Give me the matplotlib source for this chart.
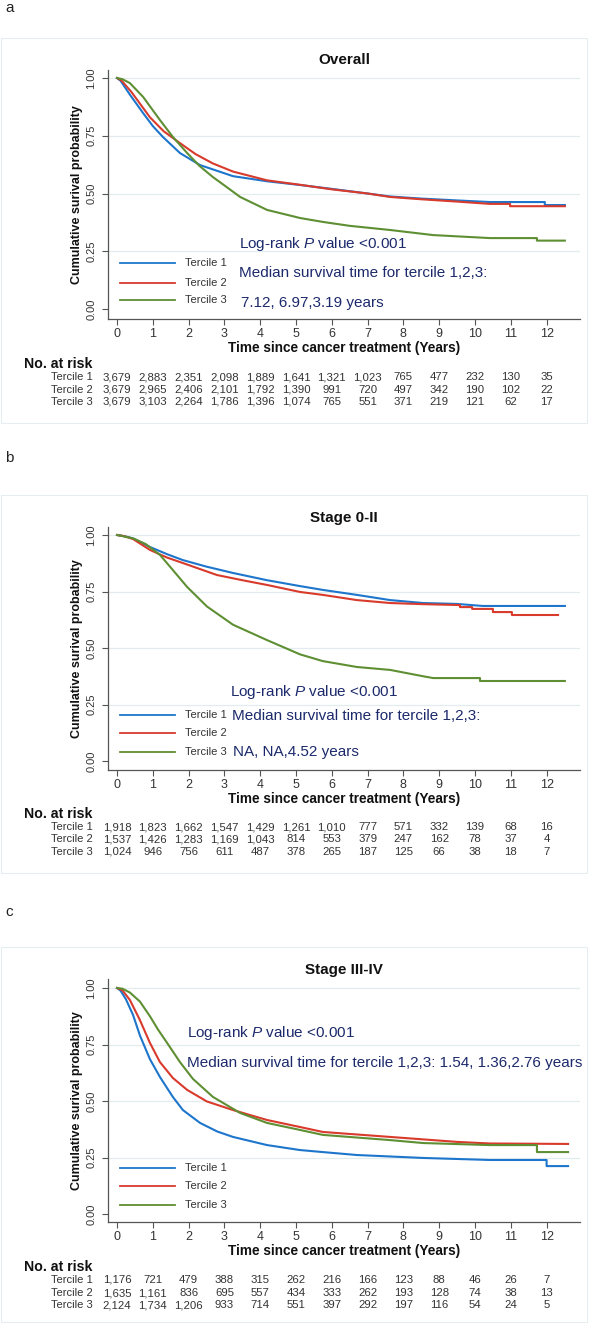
import matplotlib
matplotlib.use("Agg")
import matplotlib.pyplot as plt
from matplotlib.patches import Rectangle
from matplotlib.transforms import blended_transform_factory

# ---------------- data ----------------
years = [0, 1, 2, 3, 4, 5, 6, 7, 8, 9, 10, 11, 12]
tercile_names = ["Tercile 1", "Tercile 2", "Tercile 3"]

# Panel a: Overall
a_t1_t = [0, 0.1, 0.36, 0.73, 1.0, 1.28, 1.76, 2.32, 3.24, 4.19, 5.1, 6.0, 7.0, 7.63, 8.5, 9.5, 10.42, 11.95, 11.95, 12.51]
a_t1_s = [1.0, 0.988, 0.928, 0.848, 0.792, 0.745, 0.675, 0.623, 0.575, 0.553, 0.537, 0.52, 0.50, 0.487, 0.478, 0.47, 0.463, 0.463, 0.45, 0.45]
a_t2_t = [0, 0.12, 0.4, 0.92, 1.3, 1.76, 2.2, 2.68, 3.24, 4.19, 5.1, 6.0, 7.0, 7.63, 8.5, 9.5, 10.42, 10.98, 10.98, 12.51]
a_t2_s = [1.0, 0.99, 0.94, 0.83, 0.77, 0.718, 0.67, 0.63, 0.595, 0.557, 0.538, 0.518, 0.50, 0.485, 0.475, 0.465, 0.455, 0.455, 0.445, 0.445]
a_t3_t = [0, 0.15, 0.36, 0.73, 1.2, 1.56, 1.96, 2.3, 2.68, 3.0, 3.44, 4.19, 5.11, 5.75, 6.5, 7.63, 8.83, 10.42, 11.73, 11.73, 12.51]
a_t3_s = [1.0, 0.995, 0.978, 0.918, 0.818, 0.745, 0.675, 0.62, 0.571, 0.535, 0.485, 0.429, 0.394, 0.377, 0.36, 0.342, 0.32, 0.307, 0.307, 0.296, 0.296]
a_risk_1 = ["3,679", "2,883", "2,351", "2,098", "1,889", "1,641", "1,321", "1,023", "765", "477", "232", "130", "35"]
a_risk_2 = ["3,679", "2,965", "2,406", "2,101", "1,792", "1,390", "991", "720", "497", "342", "190", "102", "22"]
a_risk_3 = ["3,679", "3,103", "2,264", "1,786", "1,396", "1,074", "765", "551", "371", "219", "121", "62", "17"]

# Panel b: Stage 0-II
b_t1_t = [0, 0.2, 0.45, 0.92, 1.4, 1.84, 2.5, 3.24, 4.19, 5.11, 5.75, 6.7, 7.63, 8.55, 9.5, 10.22, 12.51]
b_t1_s = [1.0, 0.995, 0.985, 0.947, 0.915, 0.889, 0.86, 0.832, 0.80, 0.774, 0.757, 0.735, 0.712, 0.699, 0.695, 0.686, 0.686]
b_t2_t = [0, 0.2, 0.45, 0.92, 1.4, 1.84, 2.79, 3.5, 4.19, 5.11, 5.75, 6.7, 7.63, 8.55, 9.58, 9.58, 9.92, 9.92, 10.5, 10.5, 11.03, 11.03, 12.32]
b_t2_s = [1.0, 0.995, 0.982, 0.934, 0.90, 0.876, 0.823, 0.80, 0.779, 0.748, 0.735, 0.712, 0.699, 0.694, 0.69, 0.681, 0.681, 0.673, 0.673, 0.659, 0.659, 0.646, 0.646]
b_t3_t = [0, 0.45, 0.8, 1.2, 1.56, 1.96, 2.51, 3.24, 4.19, 5.11, 5.75, 6.7, 7.63, 8.55, 8.83, 10.14, 10.14, 12.51]
b_t3_s = [1.0, 0.985, 0.96, 0.912, 0.845, 0.77, 0.684, 0.603, 0.535, 0.472, 0.442, 0.416, 0.403, 0.375, 0.367, 0.367, 0.354, 0.354]
b_risk_1 = ["1,918", "1,823", "1,662", "1,547", "1,429", "1,261", "1,010", "777", "571", "332", "139", "68", "16"]
b_risk_2 = ["1,537", "1,426", "1,283", "1,169", "1,043", "814", "553", "379", "247", "162", "78", "37", "4"]
b_risk_3 = ["1,024", "946", "756", "611", "487", "378", "265", "187", "125", "66", "38", "18", "7"]

# Panel c: Stage III-IV
c_t1_t = [0, 0.1, 0.25, 0.45, 0.64, 0.92, 1.2, 1.56, 1.84, 2.32, 2.8, 3.24, 4.19, 5.11, 5.75, 6.7, 8.55, 10.42, 12.0, 12.0, 12.6]
c_t1_s = [1.0, 0.988, 0.95, 0.88, 0.79, 0.685, 0.606, 0.518, 0.46, 0.403, 0.365, 0.341, 0.305, 0.283, 0.274, 0.261, 0.248, 0.239, 0.239, 0.212, 0.212]
c_t2_t = [0, 0.15, 0.36, 0.64, 0.92, 1.2, 1.56, 1.96, 2.51, 3.24, 4.19, 5.11, 5.75, 7.63, 9.5, 10.42, 12.6]
c_t2_s = [1.0, 0.99, 0.947, 0.858, 0.757, 0.672, 0.602, 0.549, 0.498, 0.46, 0.416, 0.385, 0.363, 0.341, 0.319, 0.312, 0.31]
c_t3_t = [0, 0.15, 0.36, 0.64, 0.92, 1.15, 1.4, 1.76, 2.12, 2.68, 3.44, 4.19, 5.11, 5.75, 7.63, 8.55, 10.42, 11.73, 11.73, 12.6]
c_t3_s = [1.0, 0.997, 0.98, 0.94, 0.875, 0.815, 0.757, 0.672, 0.598, 0.518, 0.447, 0.403, 0.372, 0.35, 0.327, 0.314, 0.305, 0.305, 0.274, 0.274]
c_risk_1 = ["1,176", "721", "479", "388", "315", "262", "216", "166", "123", "88", "46", "26", "7"]
c_risk_2 = ["1,635", "1,161", "836", "695", "557", "434", "333", "262", "193", "128", "74", "38", "13"]
c_risk_3 = ["2,124", "1,734", "1,206", "933", "714", "551", "397", "292", "197", "116", "54", "24", "5"]

panel_letters = ["a", "b", "c"]
panel_titles = ["Overall", "Stage 0-II", "Stage III-IV"]
logrank_text = "Log-rank $\\mathit{P}$ value <0.001"
median_texts_a = ["Median survival time for tercile 1,2,3:", "7.12, 6.97,3.19 years"]
median_texts_b = ["Median survival time for tercile 1,2,3:", "NA, NA,4.52 years"]
median_texts_c = ["Median survival time for tercile 1,2,3: 1.54, 1.36,2.76 years"]

# ---------------- style ----------------
plt.rcParams['font.family'] = ['Liberation Sans', 'DejaVu Sans']
plt.rcParams['mathtext.fontset'] = 'custom'
plt.rcParams['mathtext.rm'] = 'Liberation Sans'
plt.rcParams['mathtext.it'] = 'Liberation Sans:italic'

COLORS = ["#1d76cc", "#d83a2c", "#5e8f33"]
NAVY = "#1c2a6c"
AXC = "#555555"
TXT = "#333333"
GRID = "#e2ebef"

W, H = 590, 1325
fig = plt.figure(figsize=(W / 100, H / 100), dpi=100)


def fx(px):
    return px / W


def fy(py):
    return 1 - py / H


X0PX, XUNIT = 117.0, 35.8
AX_L, AX_R = 108, 580

layouts = [
    dict(top=70, bottom=319, y1=78, y0=309, letter_y=8, title_y=60, tick_y=333, xlab_y=348,
         nar_y=364, rows=[377, 390, 402], border=(38, 423),
         leg=[0.199, 0.113, 0.039]),
    dict(top=527, bottom=770, y1=535, y0=761, letter_y=458, title_y=518, tick_y=783, xlab_y=799,
         nar_y=814, rows=[827, 839, 852], border=(495, 873),
         leg=[0.204, 0.122, 0.040]),
    dict(top=979, bottom=1222, y1=988, y0=1214, letter_y=912, title_y=970, tick_y=1237, xlab_y=1251,
         nar_y=1267, rows=[1280, 1293, 1305], border=(947, 1322),
         leg=[0.204, 0.122, 0.040]),
]

curves = [
    [(a_t1_t, a_t1_s), (a_t2_t, a_t2_s), (a_t3_t, a_t3_s)],
    [(b_t1_t, b_t1_s), (b_t2_t, b_t2_s), (b_t3_t, b_t3_s)],
    [(c_t1_t, c_t1_s), (c_t2_t, c_t2_s), (c_t3_t, c_t3_s)],
]
risks = [
    [a_risk_1, a_risk_2, a_risk_3],
    [b_risk_1, b_risk_2, b_risk_3],
    [c_risk_1, c_risk_2, c_risk_3],
]
# annotation placements: (x in years, y in survival) for each line of text
annots = [
    [(3.42, 0.28, logrank_text), (3.42, 0.156, median_texts_a[0]), (3.45, 0.028, median_texts_a[1])],
    [(3.16, 0.305, logrank_text), (3.2, 0.20, median_texts_b[0]), (3.25, 0.04, median_texts_b[1])],
    [(1.96, 0.80, logrank_text), (1.96, 0.668, median_texts_c[0])],
]

for i, L in enumerate(layouts):
    bt, bb = L["border"]
    fig.patches.append(Rectangle((fx(1), fy(bb)), fx(586), (bb - bt) / H, transform=fig.transFigure,
                                 fill=False, edgecolor="#e6edf1", linewidth=0.8))
    ax = fig.add_axes([fx(AX_L), fy(L["bottom"]), (AX_R - AX_L) / W, (L["bottom"] - L["top"]) / H])
    unit = L["y0"] - L["y1"]
    ax.set_ylim(-(L["bottom"] - L["y0"]) / unit, 1 + (L["y1"] - L["top"]) / unit)
    ax.set_xlim((AX_L - X0PX) / XUNIT, (AX_R - X0PX) / XUNIT)
    for sp in ["top", "right"]:
        ax.spines[sp].set_visible(False)
    for sp in ["left", "bottom"]:
        ax.spines[sp].set_color(AXC)
        ax.spines[sp].set_linewidth(0.9)
    for g in [0.25, 0.5, 0.75, 1.0]:
        ax.axhline(g, color=GRID, lw=0.9, zorder=0)
    ax.set_xticks(years)
    ax.set_xticklabels([str(y) for y in years], fontsize=9, color=TXT)
    ax.set_yticks([0, 0.25, 0.5, 0.75, 1.0])
    ax.set_yticklabels(["0.00", "0.25", "0.50", "0.75", "1.00"], rotation=90, va="center",
                       fontsize=8, color=TXT)
    ax.tick_params(axis="both", direction="out", length=4, width=0.8, color=AXC)
    ax.tick_params(axis="x", pad=2.5)
    ax.tick_params(axis="y", pad=4.5)

    for k, (tt, ss) in enumerate(curves[i]):
        ax.plot(tt, ss, color=COLORS[k], lw=1.5, zorder=3)

    for k, ly in enumerate(L["leg"]):
        ax.plot([0.08, 1.62], [ly, ly], color=COLORS[k], lw=1.3, clip_on=False)
        ax.text(1.9, ly, tercile_names[k], fontsize=8, color=TXT, va="center", ha="left")

    for (tx, ty, s) in annots[i]:
        ax.text(tx, ty, s, fontsize=11, color=NAVY, va="center", ha="left")

    cx = fx((AX_L + AX_R) / 2)
    fig.text(fx(5), fy(L["letter_y"]), panel_letters[i], fontsize=11, color="#222222",
             ha="left", va="center")
    fig.text(cx, fy(L["title_y"]), panel_titles[i], fontsize=11, fontweight="bold",
             color="#111111", ha="center", va="center")
    fig.text(cx, fy(L["xlab_y"]), "Time since cancer treatment (Years)", fontsize=9.8,
             fontweight="bold", color="#111111", ha="center", va="center")
    fig.text(fx(77), fy((L["top"] + L["bottom"]) / 2), "Cumulative surival probability", rotation=90,
             fontsize=9, fontweight="bold", color="#111111", ha="center", va="center")

    fig.text(fx(24), fy(L["nar_y"]), "No. at risk", fontsize=10.2, fontweight="bold",
             color="#111111", ha="left", va="center")
    trans = blended_transform_factory(ax.transData, fig.transFigure)
    for k, ry in enumerate(L["rows"]):
        fig.text(fx(93), fy(ry), tercile_names[k], fontsize=8, color=TXT, ha="right", va="center")
        for yv, val in zip(years, risks[i][k]):
            ax.text(yv, fy(ry), val, transform=trans, fontsize=8.2, color=TXT,
                    ha="center", va="center", clip_on=False)

fig.savefig("out.png", dpi=100, facecolor="white")
